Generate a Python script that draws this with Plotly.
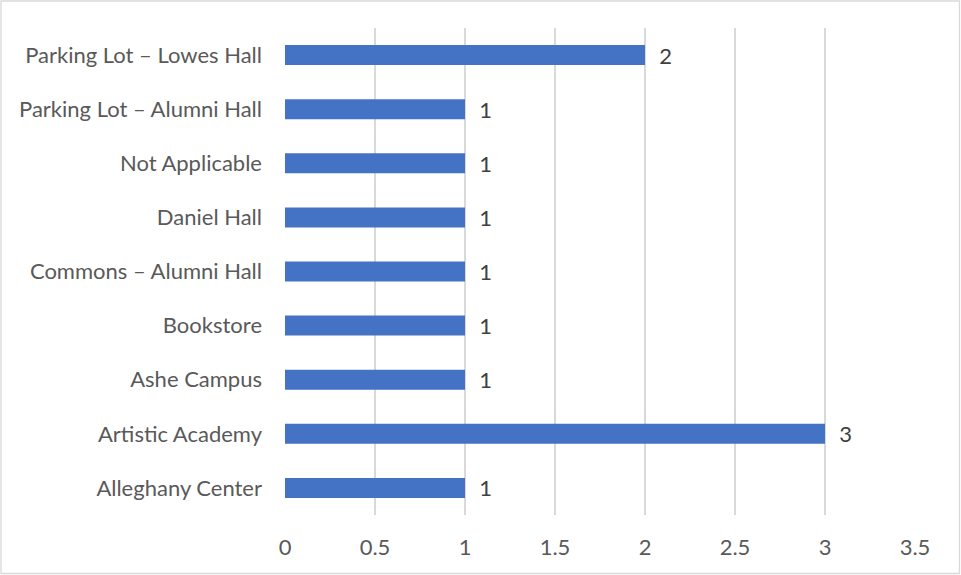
import plotly.graph_objects as go

categories = ["Alleghany Center", "Artistic Academy", "Ashe Campus", "Bookstore",
              "Commons – Alumni Hall", "Daniel Hall", "Not Applicable",
              "Parking Lot – Alumni Hall", "Parking Lot – Lowes Hall"]
values = [1, 3, 1, 1, 1, 1, 1, 1, 2]
x_ticks = [0, 0.5, 1, 1.5, 2, 2.5, 3, 3.5]

W, H = 961, 575
L, R, T, B = 285, 46, 28, 60
pw, ph = W - L - R, H - T - B

fig = go.Figure(go.Bar(
    y=categories, x=values, orientation="h",
    marker=dict(color="#4472C4", line=dict(width=0)),
    width=0.37,
    text=["\u00a0\u00a0" + str(v) for v in values], textposition="outside",
    textfont=dict(family="Lato", size=22, color="#404040"),
    constraintext="none",
    cliponaxis=False,
))

fig.update_layout(
    width=W, height=H,
    margin=dict(l=L, r=R, t=T, b=B, autoexpand=False),
    paper_bgcolor="white", plot_bgcolor="white",
    font=dict(family="Lato", size=22, color="#595959"),
    showlegend=False,
    xaxis=dict(range=[0, 3.5], tickvals=x_ticks, ticktext=[f"{v:g}" for v in x_ticks],
               showgrid=True, gridcolor="#D9D9D9", gridwidth=1.6, zeroline=False,
               showline=False, ticks="", ticklabelstandoff=17, fixedrange=True),
    yaxis=dict(showgrid=False, zeroline=False, showline=False, ticks="",
               ticklabelstandoff=22, fixedrange=True,
               categoryorder="array", categoryarray=categories),
    shapes=[dict(type="rect", xref="paper", yref="paper",
                 x0=(1 - L) / pw, x1=(959.5 - L) / pw,
                 y0=(H - B - 573.5) / ph, y1=(H - B - 1) / ph,
                 line=dict(color="#D9D9D9", width=1.3), fillcolor="rgba(0,0,0,0)")],
)
fig.update_traces(textangle=0)

fig.write_html("out.html", config={"displayModeBar": False},
               post_script="document.body.style.margin='0';document.body.style.overflow='hidden';")
